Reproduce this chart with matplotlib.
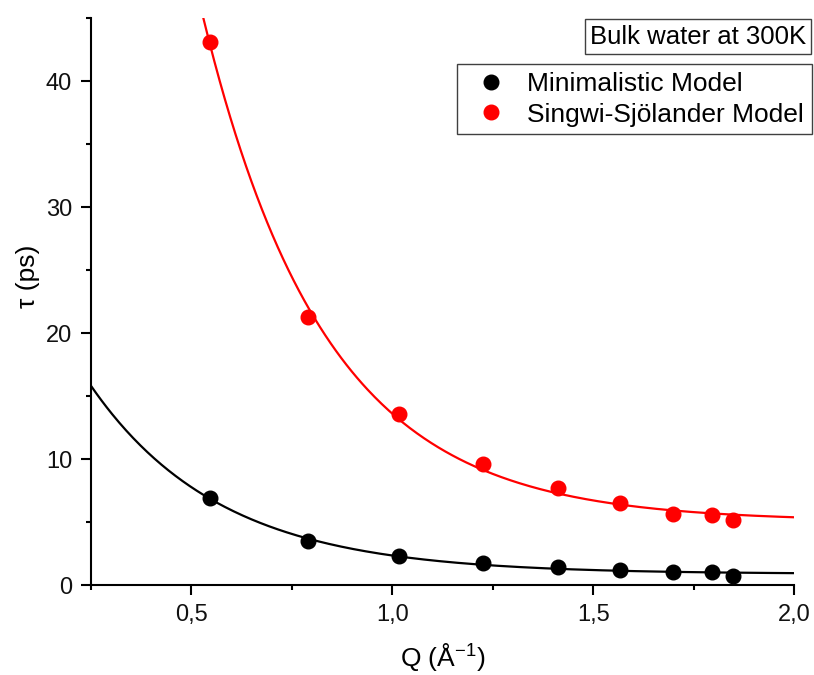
import matplotlib
matplotlib.use("Agg")
import matplotlib.pyplot as plt
import numpy as np
from matplotlib.ticker import MultipleLocator, FuncFormatter

plt.rcParams['font.family'] = ['Liberation Sans', 'DejaVu Sans']
plt.rcParams['mathtext.fontset'] = 'custom'
plt.rcParams['mathtext.rm'] = 'Liberation Sans'
plt.rcParams['mathtext.it'] = 'Liberation Sans:italic'

# data
q_min = [0.546, 0.790, 1.016, 1.225, 1.412, 1.568, 1.698, 1.795, 1.847]
tau_min = [6.9, 3.5, 2.3, 1.75, 1.43, 1.19, 1.03, 1.03, 0.71]
q_ss = [0.546, 0.790, 1.016, 1.225, 1.412, 1.568, 1.698, 1.795, 1.847]
tau_ss = [43.1, 21.3, 13.6, 9.6, 7.7, 6.5, 5.6, 5.56, 5.16]
labels = ['Minimalistic Model', 'Singwi-Sjölander Model']
colors = ['black', 'red']
x_ticks = [0.5, 1.0, 1.5, 2.0]
y_ticks = [0, 10, 20, 30, 40]


def expdec_fit(q, tau):
    # tau = y0 + A*exp(-q/t), grid over t, linear least squares for A, y0
    q = np.asarray(q)
    tau = np.asarray(tau)
    best = None
    for t in np.linspace(0.05, 2.0, 4000):
        X = np.column_stack([np.exp(-q / t), np.ones_like(q)])
        coef, res, _, _ = np.linalg.lstsq(X, tau, rcond=None)
        r = np.sum((X @ coef - tau) ** 2)
        if best is None or r < best[0]:
            best = (r, t, coef)
    _, t, (a, y0) = best
    return lambda x: y0 + a * np.exp(-x / t)


fig = plt.figure(figsize=(8.14, 6.75), dpi=100)
ax = fig.add_axes([91 / 814, 1 - 585 / 675, (794 - 91) / 814, (585 - 18) / 675])

qq = np.linspace(0.25, 2.0, 400)
for q, tau, lab, c in zip([q_min, q_ss], [tau_min, tau_ss], labels, colors):
    f = expdec_fit(q, tau)
    ax.plot(qq, f(qq), color=c, lw=1.6, zorder=2)
    ax.plot(q, tau, 'o', color=c, ms=10.5, label=lab, zorder=3, ls='none')

ax.set_xlim(0.25, 2.0)
ax.set_ylim(0, 45)
ax.set_xticks(x_ticks)
ax.set_yticks(y_ticks)
ax.xaxis.set_minor_locator(MultipleLocator(0.25))
ax.yaxis.set_minor_locator(MultipleLocator(5))
ax.xaxis.set_major_formatter(FuncFormatter(lambda v, p: f"{v:.1f}".replace('.', ',')))
for s in ['top', 'right']:
    ax.spines[s].set_visible(False)
for s in ['left', 'bottom']:
    ax.spines[s].set_linewidth(1.5)
ax.tick_params(which='major', length=7.5, width=1.5, labelsize=17, pad=6, color='black')
ax.tick_params(which='minor', length=3.5, width=1.5)
ax.tick_params(axis='both', labelcolor='#111111')

ax.set_xlabel('Q (Å$^{-1}$)', fontsize=19, labelpad=11)
ax.set_ylabel('τ (ps)', fontsize=19)
ax.yaxis.set_label_coords(-0.072, 0.545)

leg = fig.legend(loc='upper right', bbox_to_anchor=(812 / 814, 1 - 64 / 675),
                 fontsize=19, frameon=True, fancybox=False, framealpha=1,
                 edgecolor='#404040', handlelength=1.97, handletextpad=0.38,
                 borderpad=0.3, labelspacing=0.25, borderaxespad=0)
leg.get_frame().set_linewidth(1.0)

fig.text(806 / 814, 1 - 36.5 / 675, 'Bulk water at 300K', fontsize=18.5,
         ha='right', va='center',
         bbox=dict(boxstyle='square,pad=0.2', fc='white', ec='#404040', lw=1.0))

fig.savefig('out.png', dpi=100)
